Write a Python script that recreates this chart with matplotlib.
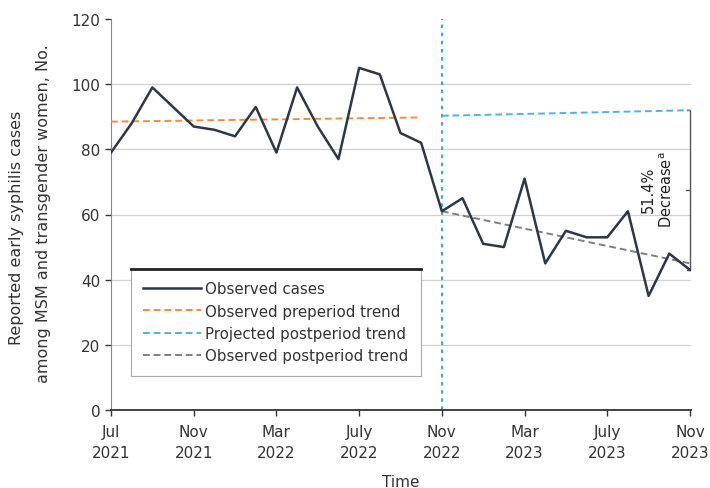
import matplotlib
matplotlib.use("Agg")
import matplotlib.pyplot as plt
from matplotlib.lines import Line2D

plt.rcParams['font.family'] = ['DejaVu Sans']

# Monthly observed cases, Jul 2021 .. Nov 2023
months = list(range(29))
observed = [79, 88, 99, 93, 87, 86, 84, 93, 79, 99, 87, 77, 105, 103, 85, 82,
            61, 65, 51, 50, 71, 45, 55, 53, 53, 61, 35, 48, 43]

pre_trend_x = [0, 15]
pre_trend_y = [88.5, 89.8]
proj_trend_x = [16, 28]
proj_trend_y = [90.3, 92]
post_trend_x = [16, 28]
post_trend_y = [61, 45]

intervention_month = 16
tick_pos = [0, 4, 8, 12, 16, 20, 24, 28]
tick_labels = ["Jul\n2021", "Nov\n2021", "Mar\n2022", "July\n2022",
               "Nov\n2022", "Mar\n2023", "July\n2023", "Nov\n2023"]
yticks = [0, 20, 40, 60, 80, 100, 120]
decrease_text = "51.4%\nDecrease$^{\\mathrm{a}}$"

fig = plt.figure(figsize=(7.10, 4.89), dpi=100)
ax = fig.add_axes([111/710, 1-411/489, 580/710, 391/489])

for y in yticks[1:-1]:
    ax.axhline(y, color='#d0d0d0', lw=0.9, zorder=0)

ax.axvline(intervention_month, color='#2a9fd6', lw=1.3, ls=(0, (2, 2.5)), zorder=1)

l_obs, = ax.plot(months, observed, color='#2e3744', lw=1.8, zorder=4,
                 label='Observed cases')
l_pre, = ax.plot(pre_trend_x, pre_trend_y, color='#f28a3a', lw=1.4,
                 ls=(0, (3.5, 2)), zorder=3, label='Observed preperiod trend')
l_proj, = ax.plot(proj_trend_x, proj_trend_y, color='#4fb3d9', lw=1.4,
                  ls=(0, (3.5, 2)), zorder=3, label='Projected postperiod trend')
l_post, = ax.plot(post_trend_x, post_trend_y, color='#7f7f7f', lw=1.4,
                  ls=(0, (3.5, 2)), zorder=3, label='Observed postperiod trend')

# bracket showing decrease
bx = months[-1]
ax.plot([bx - 0.15, bx, bx, bx - 0.15], [proj_trend_y[-1], proj_trend_y[-1],
        observed[-1], observed[-1]], color='#555555', lw=1.0, zorder=2,
        clip_on=False)
mid = (proj_trend_y[-1] + observed[-1]) / 2
ax.plot([bx - 0.2, bx], [mid, mid], color='#555555', lw=1.0, zorder=2)
ax.text(26.45, 68, decrease_text, rotation=90, ha='center', va='center',
        fontsize=10.5, color='#222222', linespacing=1.2)

ax.set_xlim(0, 28.05)
ax.set_ylim(0, 120)
ax.set_xticks(tick_pos)
ax.set_xticklabels(tick_labels, fontsize=11, color='#333333', linespacing=1.55)
ax.set_yticks(yticks)
ax.set_yticklabels([str(v) for v in yticks], fontsize=11, color='#333333')
ax.tick_params(axis='both', length=4, width=1, color='#333333')
ax.tick_params(axis='x', pad=6)
for s in ['top', 'right']:
    ax.spines[s].set_visible(False)
ax.spines['left'].set_color('#888888')
ax.spines['bottom'].set_color('#333333')
ax.spines['bottom'].set_linewidth(1.3)

ax.set_xlabel('Time', fontsize=11, color='#333333', labelpad=9.5)
fig.text(17/710, 1 - 228/489, 'Reported early syphilis cases', rotation=90,
         ha='center', va='center', fontsize=11.5, color='#333333')
fig.text(44/710, 1 - 214/489, 'among MSM and transgender women, No.', rotation=90,
         ha='center', va='center', fontsize=11.5, color='#333333')

leg = ax.legend(handles=[l_obs, l_pre, l_proj, l_post], loc='upper left',
                bbox_to_anchor=((131-111)/580, (411-270)/391), borderaxespad=0,
                fontsize=10.8, frameon=True, fancybox=False, handlelength=3.85,
                handletextpad=0.3, labelspacing=0.5, borderpad=0.8)
leg.get_frame().set_edgecolor('#aaaaaa')
leg.get_frame().set_linewidth(0.8)
leg.get_frame().set_facecolor('white')
leg.get_frame().set_alpha(1)
leg.set_zorder(5)
for t in leg.get_texts():
    t.set_color('#333333')

fig.canvas.draw()
bb = leg.get_frame().get_window_extent().transformed(fig.transFigure.inverted())
fig.add_artist(Line2D([bb.x0, bb.x1], [bb.y1, bb.y1], color='#222222', lw=2,
                      transform=fig.transFigure, zorder=10))

fig.savefig('out.png', dpi=100)
